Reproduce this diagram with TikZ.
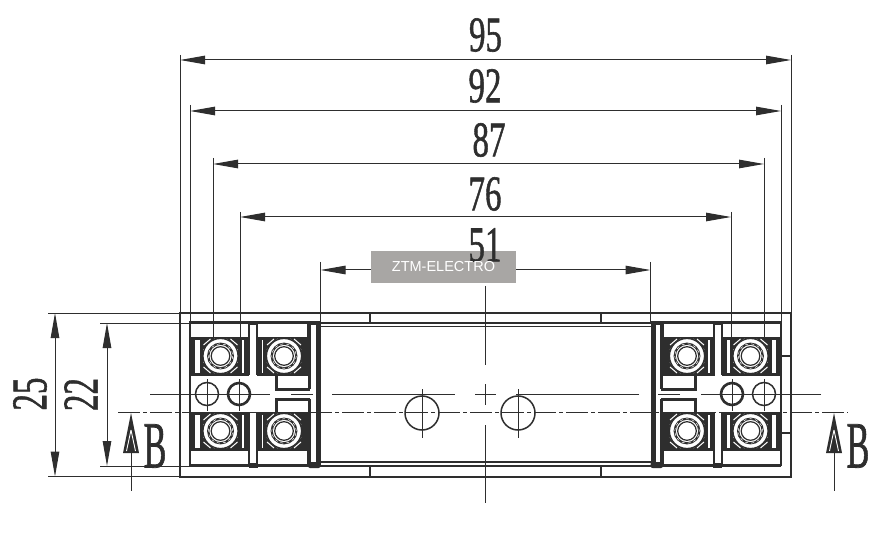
\documentclass[tikz,border=0pt]{standalone}
\usepackage{fontspec}
\setmainfont{Liberation Serif}
\newfontfamily\wmfont{Liberation Sans}
\newfontfamily\dimfont[FakeBold=1.2]{Liberation Serif}
\usetikzlibrary{arrows.meta}
\definecolor{ink}{HTML}{2E2E2E}
\definecolor{wmgrey}{HTML}{A8A6A4}
\newcommand{\dimtxt}[1]{\scalebox{.66}[1]{\dimfont\fontsize{50}{50}\selectfont #1}}
\newcommand{\letterB}{\scalebox{.52}[1]{\dimfont\fontsize{66}{66}\selectfont B}}
\tikzset{
  dimline/.style={draw=ink,line width=1pt,{Stealth[length=25pt,width=8.5pt,inset=0pt]}-{Stealth[length=25pt,width=8.5pt,inset=0pt]}},
  extline/.style={draw=ink,line width=.9pt},
  centreline/.style={draw=ink,line width=.9pt},
  outline/.style={draw=ink,line width=2pt},
  thickline/.style={draw=ink,line width=3pt},
  midline/.style={draw=ink,line width=1.7pt},
  dimlabel/.style={inner sep=0pt,text=ink},
  darkfill/.style={fill=ink},
}
% terminal: centre, sign (1 upper, -1 lower), left edge, right edge
\newcommand{\terminal}[4]{%
\begin{scope}[shift={(#1)},yscale=#2]
  \draw[midline] (#3,-34) rectangle (#4,18);
  \draw[thickline] (#3,-34) -- (#4,-34);
  \draw[thickline] (#3,-18) -- (#4,-18);
  \draw[thickline] (#3,18) -- (#4,18);
  \fill[darkfill] (#3,-18) rectangle ++(5,36);
  \fill[darkfill] (#4,-18) rectangle ++(-5,36);
  \fill[darkfill] (-21,-18) rectangle (21,18);
  \draw[white,line width=1pt] (-17,-11) -- (-10,-17) (-17,-6) -- (-6,-17) (17,-11) -- (10,-17) (17,-6) -- (6,-17)
     (-17,11) -- (-10,17) (-17,6) -- (-6,17) (17,11) -- (10,17) (17,6) -- (6,17);
  \filldraw[fill=white,draw=ink,line width=1.2pt] (0,0) circle (17.5);
  \draw[ink,line width=2.2pt] (0,0) circle (12.3);
  \draw[white,line width=.5pt,dash pattern=on 3pt off 3pt] (0,0) circle (12.3);
  \draw[ink,line width=1.2pt] (0,0) circle (9.3);
\end{scope}}
% one half of the base; drawn twice, the second time mirrored
\newcommand{\halfbase}{%
  \terminal{220.5,356}{1}{-30.5}{28.5}
  \terminal{220.5,431}{-1}{-30.5}{28.5}
  \terminal{284,356}{1}{-27.5}{24}
  \terminal{284,431}{-1}{-27.5}{24}
  \draw[midline] (190,374) -- (190,413);
  \fill[darkfill] (249,321) rectangle (258,325);
  \fill[darkfill] (249,463) rectangle (258,468);
  \draw[midline] (257,325) -- (257,374) (257,413) -- (257,463);
  \draw[midline] (249,325) -- (249,374) (249,413) -- (249,463);
  \draw[thickline] (276,375) -- (276,389) -- (310,389);
  \draw[thickline] (276,413) -- (276,399) -- (310,399);
  \draw[draw=ink,line width=3pt] (309.5,322) -- (309.5,389) (309.5,399) -- (309.5,466);
  \fill[darkfill] (315.5,322) rectangle (320.5,466);
  \fill[darkfill,rounded corners=2pt] (308,462) rectangle (320.5,468);
  \fill[darkfill] (308,321) rectangle (320.5,325);
  \draw[centreline] (150,394) -- (270,394) (291,394) -- (313,394) (332,394) -- (455,394);
  \draw[extline] (190,105) -- (190,322);
  \draw[extline] (180,55) -- (180,313);
  \draw[extline] (320.5,262) -- (320.5,324);
  \draw[line width=1.5pt,draw=ink] (207,394) circle (11.5);
  \draw[line width=2.6pt,draw=ink] (239,394) circle (11);
  \draw[centreline] (207,379) -- (207,411) (239,379) -- (239,411);
}
\begin{document}
\begin{tikzpicture}[x=1pt,y=-1pt]
\useasboundingbox (0,0) rectangle (888,534);
\fill[white] (0,0) rectangle (888,534);

% outer frame and long body lines
\draw[outline] (180,313) rectangle (791,476.5);
\draw[midline] (190,323) -- (781,323);
\draw[midline] (190,466) -- (781,466);
\draw[midline] (320,326.5) -- (651,326.5);
\draw[midline] (320,462) -- (651,462);
\draw[midline] (370,313) -- (370,323) (601,313) -- (601,323);
\draw[midline] (370,466) -- (370,476) (601,466) -- (601,476);

\halfbase
\begin{scope}[shift={(971,0)},xscale=-1]
  \halfbase
\end{scope}

% extension lines that are not mirror images of each other
\draw[extline] (213,158) -- (213,340) (240,212) -- (240,340);
\draw[extline] (731,212) -- (731,340) (764,158) -- (764,340);

% tabs on the right side
\draw[midline] (781,356) -- (791,356) (781,433) -- (791,433);

% centre holes and centre lines
\node[draw=ink,line width=1.5pt,circle,minimum size=34pt,inner sep=0pt] (holeL) at (422,413) {};
\node[draw=ink,line width=1.5pt,circle,minimum size=34pt,inner sep=0pt] (holeR) at (518,413) {};
\draw[centreline] (422,389) -- (422,438) (518,389) -- (518,438);
\draw[centreline] (475,394) -- (496,394);
\draw[centreline] (485.5,286) -- (485.5,365) (485.5,384) -- (485.5,405) (485.5,425) -- (485.5,503);
\draw[centreline,dash pattern=on 22pt off 3pt on 4pt off 3pt] (118,412) -- (848,412);

% dimension lines
\coordinate (a95) at (180,60);   \coordinate (b95) at (791,60);
\coordinate (a92) at (190,111);  \coordinate (b92) at (781,111);
\coordinate (a87) at (213,164);  \coordinate (b87) at (764,164);
\coordinate (a76) at (240,217);  \coordinate (b76) at (731,217);
\coordinate (a51) at (320.5,270);\coordinate (b51) at (650.5,270);
\draw[dimline] (a95) -- (b95);
\draw[dimline] (a92) -- (b92);
\draw[dimline] (a87) -- (b87);
\draw[dimline] (a76) -- (b76);
\draw[dimline] (a51) -- (b51);
\node[dimlabel] (t95) at (485.5,35) {\dimtxt{95}};
\node[dimlabel] (t92) at (485,86) {\dimtxt{92}};
\node[dimlabel] (t87) at (489,140) {\dimtxt{87}};
\node[dimlabel] (t76) at (485,194) {\dimtxt{76}};

% vertical dimensions
\coordinate (e25a) at (48,313);  \coordinate (f25a) at (180,313);
\coordinate (e25b) at (48,476.5);\coordinate (f25b) at (180,476.5);
\coordinate (e22a) at (100,323); \coordinate (f22a) at (190,323);
\coordinate (e22b) at (100,466); \coordinate (f22b) at (190,466);
\draw[extline] (e25a) -- (f25a) (e25b) -- (f25b) (e22a) -- (f22a) (e22b) -- (f22b);
\coordinate (v25a) at (55,313);  \coordinate (v25b) at (55,476.5);
\coordinate (v22a) at (107,323); \coordinate (v22b) at (107,466);
\draw[dimline] (v25a) -- (v25b);
\draw[dimline] (v22a) -- (v22b);
\node[dimlabel,rotate=90] (t25) at (30,394) {\dimtxt{25}};
\node[dimlabel,rotate=90] (t22) at (81,394.5) {\dimtxt{22}};

% section markers
\foreach \xx/\nm in {131/L,834/R}{
  \draw[extline] (\xx,453) -- (\xx,491);
  \fill[darkfill] (\xx,413) -- (\xx+8,453) -- (\xx-8,453) -- cycle;
  \draw[white,line width=.9pt] (\xx,430) -- (\xx+4.5,451) (\xx,430) -- (\xx-4.5,451);
}
\node[dimlabel] (bL) at (155,446) {\letterB};
\node[dimlabel] (bR) at (858,446) {\letterB};

% watermark
\node[fill=wmgrey,minimum width=145pt,minimum height=32pt,inner sep=0pt] (wm) at (443.5,267) {};
\node[dimlabel] (t51) at (485,245) {\dimtxt{51}};
\node[inner sep=0pt,text=white] (wmt) at (443.5,267) {\wmfont\fontsize{14.5}{14.5}\selectfont ZTM-ELECTRO};
\end{tikzpicture}
\end{document}
